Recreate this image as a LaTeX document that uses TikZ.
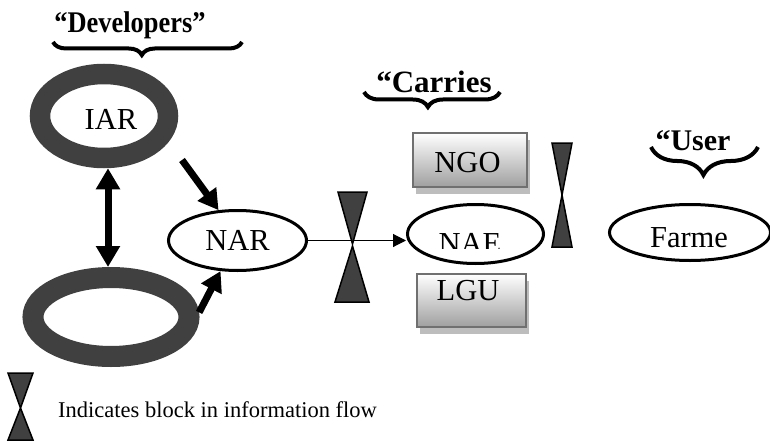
\documentclass[tikz,border=0pt]{standalone}
\usepackage{graphicx}
\usepackage{fontspec}
\setmainfont{Liberation Serif}
\usetikzlibrary{arrows.meta,shapes.geometric,decorations.pathreplacing,calc,shadows}
\definecolor{ringgray}{HTML}{404040}
\definecolor{boxborder}{HTML}{707070}
\definecolor{shadowgray}{HTML}{BDBDBD}
\begin{document}
\begin{tikzpicture}[x=1pt,y=-1pt,
  ring/.style={ellipse, draw=ringgray, inner sep=0pt},
  oval/.style={ellipse, draw=black, line width=3pt, inner sep=0pt},
  lbl/.style={inner sep=0pt, font=\fontsize{30.5}{34}\selectfont},
  head/.style={inner sep=0pt, anchor=base, font=\fontsize{30}{33}\selectfont\bfseries},
  bigarrow/.style={line width=7pt, -{Triangle[length=20pt,width=22pt]}},
  bigdouble/.style={line width=7pt, {Triangle[length=21pt,width=23pt]}-{Triangle[length=21pt,width=23pt]}},
  thinarrow/.style={line width=1.1pt, -{Triangle[length=13pt,width=13pt]}},
  orgbox/.style={rectangle, draw=boxborder, line width=2pt, top color=white, bottom color=gray!75, inner sep=0pt,
    drop shadow={shadow xshift=3pt, shadow yshift=-7pt, fill=shadowgray, opacity=1}},
  block/.style={fill=ringgray, draw=black, line width=1.5pt, line join=miter},
  curly/.style 2 args={decorate, decoration={brace, mirror, amplitude=#1, aspect=#2}, line width=4pt},
]
\useasboundingbox (0,0) rectangle (770,441);

% headings and braces
\node[head] (devhead) at (130,33) {\scalebox{0.88}[1]{“Developers”}};
\draw[curly={13pt}{0.47}] (53,42) -- (242,42);
\node[head, font=\fontsize{31}{34}\selectfont\bfseries] (carhead) at (434,93) {“Carries};
\draw[curly={15pt}{0.47}] (364,92) -- (500,92);
\node[head] (userhead) at (693,150) {“User};
\draw[curly={28pt}{0.49}] (651,147) -- (758,147);

% developer rings
\node[ring, line width=20.5pt, minimum width=128pt, minimum height=84pt] (iar) at (104,116) {};
\node[lbl] (iarlbl) at (111,119.5) {IAR};
\node[ring, line width=21pt, minimum width=156pt, minimum height=79pt] (dev2) at (111,317) {};

% ovals
\node[oval, minimum width=138pt, minimum height=60pt, font=\fontsize{30.5}{34}\selectfont] (nar) at (237.5,240.5) {NAR};
\node[oval, minimum width=136pt, minimum height=59pt] (nae) at (475.5,234) {};
\begin{scope}
  \clip (420,220) rectangle (530,248.5);
  \node[lbl] (naelbl) at (470,243.5) {NAE};
\end{scope}
\node[oval, minimum width=161pt, minimum height=56pt] (farmer) at (690,232.5) {};
\node[lbl] (farmerlbl) at (689,238) {Farme};

% carrier boxes
\node[orgbox, minimum width=114pt, minimum height=54pt] (ngo) at (470,160) {};
\node[lbl] (ngolbl) at (467.5,162.5) {NGO};
\node[orgbox, minimum width=109pt, minimum height=53pt] (lgu) at (471.5,300.5) {};
\node[lbl] (lgulbl) at (468,291) {LGU};

% arrows
\draw[bigdouble] ([xshift=4pt]iar.south) -- ([xshift=-3pt]dev2.north);
\draw[bigarrow] ([xshift=78pt,yshift=-44pt]iar.center) -- (nar.122);
\draw[bigarrow] (dev2.3) -- (nar.241);
\draw[thinarrow] (nar.east) -- (nar.east -| nae.west);

% blocks
\draw[block] (338,192) -- (367,192) -- (352.5,244) -- cycle;
\draw[block] (352.5,246) -- (369,302) -- (335,302) -- cycle;
\draw[block] (552,143) -- (572,143) -- (562,195) -- cycle;
\draw[block] (562,195) -- (572,247) -- (552,247) -- cycle;

% legend
\draw[block] (8,373) -- (33,373) -- (20.5,408) -- cycle;
\draw[block] (20.5,408) -- (33,440) -- (8,440) -- cycle;
\node[anchor=base west, inner sep=0pt, font=\fontsize{22.5}{26}\selectfont] (legend) at (58,417) {Indicates block in information flow};
\end{tikzpicture}
\end{document}
